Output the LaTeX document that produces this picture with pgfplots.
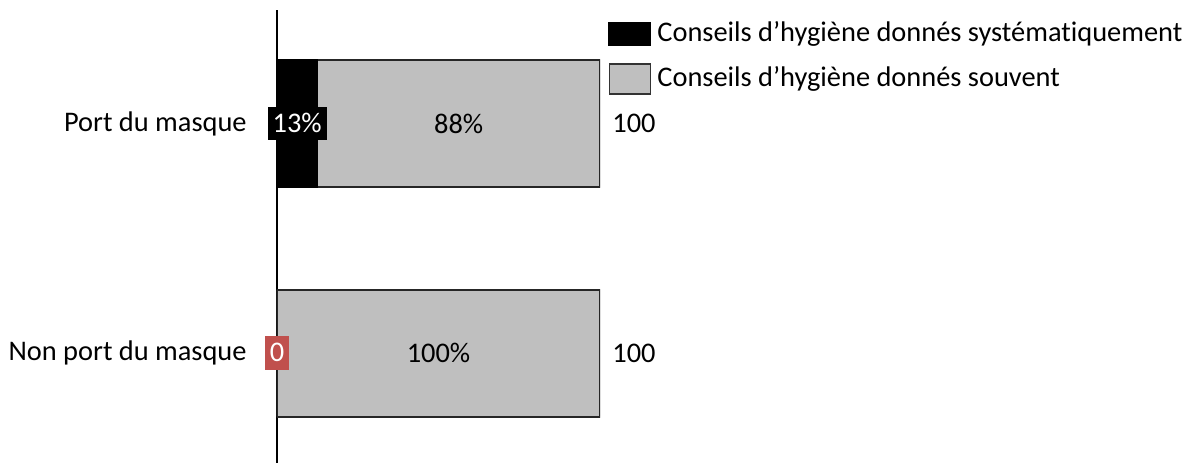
\documentclass[border=0pt]{standalone}
\usepackage{fontspec}
\setmainfont{Carlito}[Ligatures=CommonOff]
\usepackage{pgfplots}
\pgfplotsset{compat=1.18}
\definecolor{barGray}{RGB}{191,191,191}
\definecolor{lblRed}{RGB}{192,80,77}
\begin{document}
\fontsize{14.2}{17}\selectfont
\begin{tikzpicture}
\pgfplotsset{common/.style={scale only axis, width=161.5pt, height=226.5pt,
  xmin=0, xmax=100, ymin=-0.479, ymax=1.4946}}
\begin{axis}[common, name=ax,
  axis x line=none, axis y line*=left,
  axis line style={-, line width=0.75pt},
  xbar stacked, bar width=63.5pt,
  ytick={0,1}, yticklabels={Non port du masque, Port du masque},
  major tick length=0pt, ytick style={draw=none},
  yticklabel style={inner sep=0pt, xshift=-15pt},
  legend style={draw=none, fill=none, inner sep=0pt,
    at={(axis description cs:1.0248,0.9845)}, anchor=north west,
    row sep=6.5pt, font=\fontsize{14.2}{17}\selectfont,
    /tikz/every odd column/.append style={column sep=1pt}},
  legend cell align=left,
]
\addplot[fill=black, draw=black, line width=1pt,
  legend image code/.code={\draw[fill=black,draw=black] (0pt,-5.5pt) rectangle (20.5pt,5.5pt);}]
  coordinates {(12.5,1) (0,0)};
\addplot[fill=barGray, draw=black!85, line width=1pt,
  legend image code/.code={\draw[fill=barGray,draw=black!80,line width=0.8pt] (0pt,-7.5pt) rectangle (20.5pt,7.5pt);}]
  coordinates {(87.5,1) (100,0)};
\legend{Conseils d’hygiène donnés systématiquement, Conseils d’hygiène donnés souvent}
\end{axis}
\begin{axis}[common, axis lines=none, clip=false, ticks=none]
\addplot[only marks, mark=none, nodes near coords, point meta=explicit symbolic,
  every node near coord/.append style={anchor=center, fill=black, text=white,
    inner xsep=2.4pt, inner ysep=3.8pt, text height=8.85pt, text depth=0pt}]
  coordinates {(6.25,1) [13\%]};
\addplot[only marks, mark=none, nodes near coords, point meta=explicit symbolic,
  every node near coord/.append style={anchor=center, fill=lblRed, text=white,
    inner xsep=2.2pt, inner ysep=4pt, text height=8.85pt, text depth=0pt}]
  coordinates {(0,0) [0]};
\addplot[only marks, mark=none, nodes near coords, point meta=explicit symbolic,
  every node near coord/.append style={anchor=center, text=black}]
  coordinates {(56.25,1) [88\%] (50,0) [100\%]};
\addplot[only marks, mark=none, nodes near coords, point meta=explicit symbolic,
  every node near coord/.append style={anchor=west, inner sep=0pt, xshift=6pt, text=black}]
  coordinates {(100,1) [100] (100,0) [100]};
\end{axis}
\pgfresetboundingbox
\path ([xshift=-138.5pt]ax.south west) rectangle ([xshift=301pt,yshift=5pt]ax.north east);
\end{tikzpicture}
\end{document}
